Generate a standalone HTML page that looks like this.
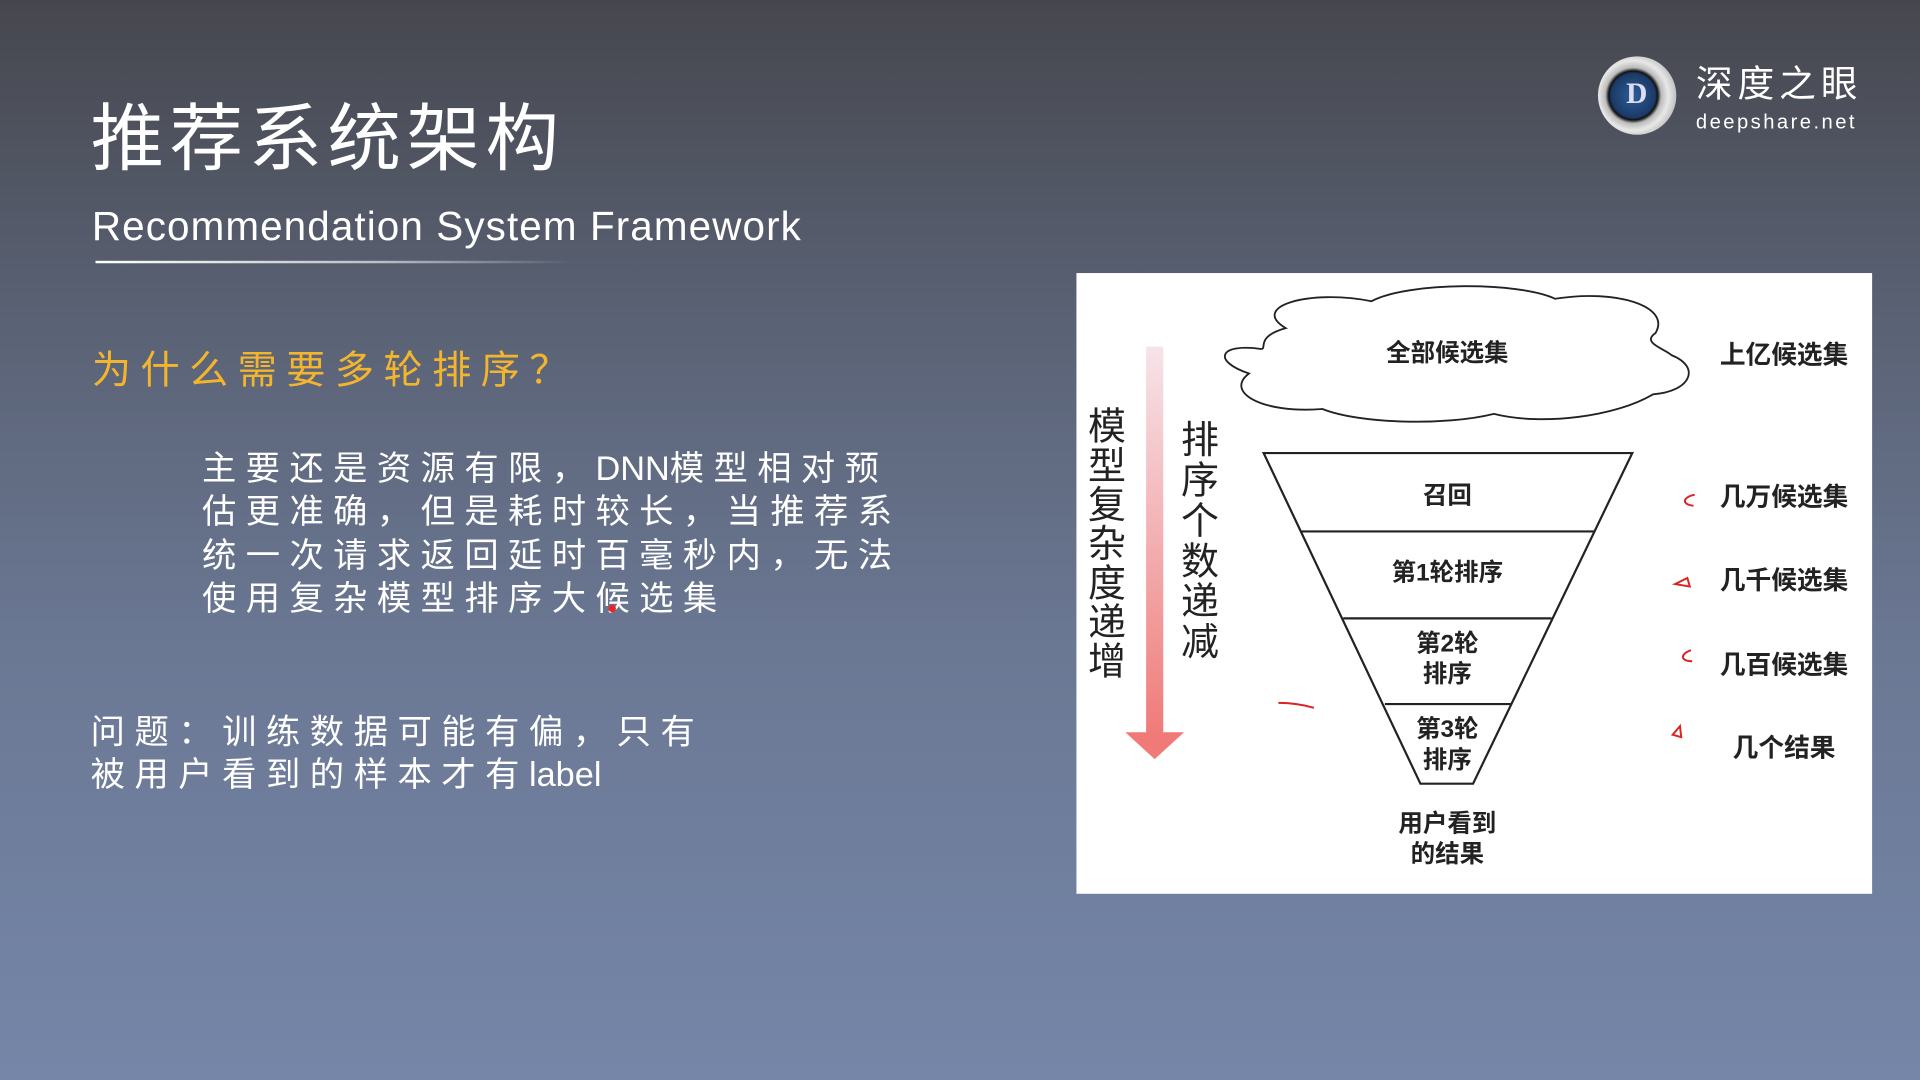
<!DOCTYPE html>
<html><head><meta charset="utf-8">
<style>
html,body{margin:0;padding:0;width:1920px;height:1080px;overflow:hidden;}
body{background:linear-gradient(180deg,#46474e 0%,#5a6275 30%,#6b7894 60%,#7586a8 100%);}
#s{position:absolute;left:0;top:0;width:1568px;height:882px;transform:scale(1.22449);transform-origin:0 0;font-family:"Liberation Sans","Noto Sans CJK SC",sans-serif;color:#fff;}
.t{position:absolute;white-space:nowrap;}
.l{letter-spacing:0;}
</style></head><body>
<div id="s">
<div class="t" style="left:74px;top:76px;font-size:60px;letter-spacing:4.5px;line-height:76px;">推荐系统架构</div>
<div class="t" style="left:75px;top:164px;font-size:33px;letter-spacing:0.9px;line-height:42px;">Recommendation System Framework</div>
<div style="position:absolute;left:78px;top:213px;width:390px;height:2px;background:linear-gradient(90deg,#fff,rgba(255,255,255,0.6) 60%,rgba(255,255,255,0));"></div>
<div class="t" style="left:75px;top:282px;font-size:32px;letter-spacing:7.7px;color:#f3b52e;line-height:40px;">为什么需要多轮排序？</div>
<div class="t" style="left:165px;top:365px;font-size:28px;letter-spacing:7.7px;line-height:35.3px;">主要还是资源有限，<span class="l">DNN</span>模型相对预<br>估更准确，但是耗时较长，当推荐系<br>统一次请求返回延时百毫秒内，无法<br>使用复杂模型排序大候选集</div>
<div style="position:absolute;left:497px;top:494px;width:6px;height:6px;border-radius:50%;background:#e22;"></div>
<div class="t" style="left:74px;top:580px;font-size:28px;letter-spacing:7.8px;line-height:35.3px;">问题：训练数据可能有偏，只有<br>被用户看到的样本才有<span class="l">label</span></div>
<!-- logo -->
<div style="position:absolute;left:1305px;top:46px;width:64px;height:64px;border-radius:50%;background:radial-gradient(circle at 45% 50%,#2c5d9a 0,#1b3a66 38%,#111 42%,#bbb 48%,#e8e8e8 60%,#777 100%);"></div>
<div class="t" style="left:1328px;top:64px;font-size:24px;font-weight:bold;font-family:'Liberation Serif',serif;color:#dde;">D</div>
<div class="t" style="left:1385px;top:52px;font-size:30px;letter-spacing:4px;line-height:36px;">深度之眼</div>
<div class="t" style="left:1385px;top:90px;font-size:16.5px;letter-spacing:2px;line-height:20px;">deepshare.net</div>
<!-- diagram -->
<svg style="position:absolute;left:879px;top:223px;" width="650" height="507" viewBox="879 223 650 507">
<defs><linearGradient id="ag" x1="0" y1="0" x2="0" y2="1"><stop offset="0" stop-color="#f6e4ea"/><stop offset="1" stop-color="#f07a78"/></linearGradient></defs>
<rect x="879" y="223" width="650" height="507" fill="#fff"/>
<path d="M1050,268 C1020,250 1070,236 1120,246 C1150,230 1240,230 1270,244 C1320,236 1365,250 1352,272 C1340,280 1360,285 1365,290 C1390,300 1380,320 1350,322 C1320,340 1260,348 1220,338 C1180,348 1110,346 1080,334 C1030,338 1000,320 1020,305 C990,295 995,280 1030,285 C1035,285 1025,275 1050,268 Z" fill="#fff" stroke="#222" stroke-width="1.5"/>
<g stroke="#222" stroke-width="1.8" fill="none">
<path d="M1032,370 L1333,370 L1203,640 L1160,640 Z"/>
<line x1="1063" y1="434" x2="1302" y2="434"/>
<line x1="1097" y1="505" x2="1267" y2="505"/>
<line x1="1131" y1="575" x2="1234" y2="575"/>
</g>
<rect x="936" y="283" width="14" height="320" fill="url(#ag)"/>
<polygon points="919,598 967,598 943,620" fill="#f07a78"/>
<g font-family="Liberation Sans,Noto Sans CJK SC,sans-serif" font-weight="bold" fill="#222" text-anchor="middle">
<g font-size="20"><text x="1182" y="295">全部候选集</text>
<text x="1182" y="411">召回</text><text x="1182" y="474">第1轮排序</text>
<text x="1182" y="532">第2轮</text><text x="1182" y="557">排序</text>
<text x="1182" y="602">第3轮</text><text x="1182" y="627">排序</text>
<text x="1182" y="679">用户看到</text><text x="1182" y="704">的结果</text></g>
<g font-size="21"><text x="1457" y="297">上亿候选集</text><text x="1457" y="413">几万候选集</text><text x="1457" y="481">几千候选集</text><text x="1457" y="550">几百候选集</text><text x="1457" y="618">几个结果</text></g>
<g font-size="31" font-weight="normal"><text x="904" y="359">模</text><text x="904" y="391">型</text><text x="904" y="423">复</text><text x="904" y="455">杂</text><text x="904" y="487">度</text><text x="904" y="519">递</text><text x="904" y="551">增</text>
<text x="980" y="370">排</text><text x="980" y="403">序</text><text x="980" y="436">个</text><text x="980" y="469">数</text><text x="980" y="502">递</text><text x="980" y="535">减</text></g>
</g>
<g stroke="#d22" stroke-width="1.6" fill="none">
<path d="M1384,404 C1374,406 1373,412 1383,413"/><path d="M1378,472 L1368,477 L1380,479 Z"/>
<path d="M1381,531 C1372,534 1372,540 1382,540"/><path d="M1372,593 L1366,600 L1373,602 Z"/>
<path d="M1044,574 C1055,574 1066,576 1073,578"/>
</g>
</svg>
</div>
</body></html>
